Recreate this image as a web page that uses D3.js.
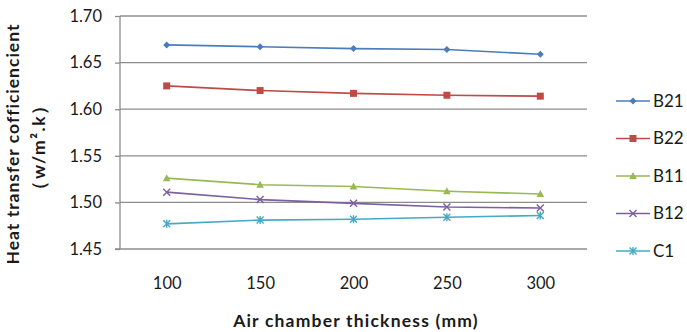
<!DOCTYPE html>
<html>
<head>
<meta charset="utf-8">
<script src="https://cdn.jsdelivr.net/npm/d3@7"></script>
<style>
  html, body { margin: 0; padding: 0; background: #fff; }
  svg { display: block; font-family: Lato, "Open Sans", sans-serif; }
</style>
</head>
<body>
<svg id="chart" width="687" height="332"></svg>
<script>
// Air chamber thickness categories (mm)
const thickness = ["100", "150", "200", "250", "300"];
const yTicks = [1.45, 1.50, 1.55, 1.60, 1.65, 1.70];

// Heat transfer coefficient per configuration
const seriesNames = ["B21", "B22", "B11", "B12", "C1"];
const B21 = [1.669, 1.667, 1.665, 1.664, 1.659];
const B22 = [1.625, 1.620, 1.617, 1.615, 1.614];
const B11 = [1.526, 1.519, 1.517, 1.512, 1.509];
const B12 = [1.511, 1.503, 1.499, 1.495, 1.494];
const C1  = [1.477, 1.481, 1.482, 1.484, 1.486];
const seriesValues = [B21, B22, B11, B12, C1];
const seriesColors = ["#4a7ebb", "#be4b48", "#98b954", "#7d60a0", "#46aac5"];
const seriesMarkers = ["diamond", "square", "triangle", "cross", "star"];

const svg = d3.select("#chart");
const plot = { left: 120, right: 587, top: 16, bottom: 249 };

const x = d3.scalePoint().domain(thickness)
  .range([plot.left, plot.right]).padding(0.5);
const y = d3.scaleLinear().domain([1.45, 1.70])
  .range([plot.bottom, plot.top]);

// Horizontal gridlines
svg.append("g").selectAll("line").data(yTicks.slice(1)).join("line")
  .attr("x1", plot.left).attr("x2", plot.right)
  .attr("y1", d => y(d)).attr("y2", d => y(d))
  .attr("stroke", "#8c8c8c").attr("stroke-width", 1.3);

// Y axis with outward ticks
const yAxis = svg.append("g").attr("transform", `translate(${plot.left},0)`)
  .call(d3.axisLeft(y).tickValues(yTicks).tickFormat(d3.format(".2f"))
    .tickSize(5).tickPadding(13));
yAxis.select(".domain").attr("stroke", "#8c8c8c").attr("stroke-width", 1.3)
  .attr("d", `M0,${plot.top}V${plot.bottom}`);
yAxis.selectAll(".tick line").attr("stroke", "#8c8c8c").attr("stroke-width", 1.3);
yAxis.selectAll(".tick text").attr("font-size", 16.5).attr("fill", "#1a1a1a")
  .attr("font-family", "Lato, sans-serif");

// X axis
const xAxis = svg.append("g").attr("transform", `translate(0,${plot.bottom})`)
  .call(d3.axisBottom(x).tickSize(0).tickPadding(28));
xAxis.select(".domain").attr("stroke", "#8c8c8c").attr("stroke-width", 1.3)
  .attr("d", `M${plot.left - 5},0H${plot.right}`);
xAxis.selectAll(".tick text").attr("font-size", 16.5).attr("fill", "#1a1a1a")
  .attr("font-family", "Lato, sans-serif");

// Marker shapes
function drawMarker(g, type, color) {
  if (type === "diamond") {
    g.append("path").attr("d", "M0,-3.5L3.5,0L0,3.5L-3.5,0Z").attr("fill", color);
  } else if (type === "square") {
    g.append("rect").attr("x", -3.5).attr("y", -3.5).attr("width", 7).attr("height", 7)
      .attr("fill", color);
  } else if (type === "triangle") {
    g.append("path").attr("d", "M0,-4L3.8,3L-3.8,3Z").attr("fill", color);
  } else if (type === "cross") {
    g.append("path").attr("d", "M-3.5,-3.5L3.5,3.5M-3.5,3.5L3.5,-3.5")
      .attr("stroke", color).attr("stroke-width", 1.4).attr("fill", "none");
  } else if (type === "star") {
    g.append("path").attr("d", "M-3.5,-3.5L3.5,3.5M-3.5,3.5L3.5,-3.5M0,-4V4")
      .attr("stroke", color).attr("stroke-width", 1.4).attr("fill", "none");
  }
}

const line = d3.line().x((d, i) => x(thickness[i])).y(d => y(d));

seriesNames.forEach((name, s) => {
  const g = svg.append("g");
  g.append("path").datum(seriesValues[s]).attr("d", line)
    .attr("fill", "none").attr("stroke", seriesColors[s]).attr("stroke-width", 1.6);
  seriesValues[s].forEach((v, i) => {
    const m = g.append("g").attr("transform", `translate(${x(thickness[i])},${y(v)})`);
    drawMarker(m, seriesMarkers[s], seriesColors[s]);
  });
});

// Legend
const legendY = d3.scalePoint().domain(seriesNames).range([101, 251]);
seriesNames.forEach((name, s) => {
  const g = svg.append("g").attr("transform", `translate(616,${legendY(name)})`);
  g.append("line").attr("x1", 0).attr("x2", 34).attr("y1", 0).attr("y2", 0)
    .attr("stroke", seriesColors[s]).attr("stroke-width", 1.6);
  const m = g.append("g").attr("transform", "translate(17,0)");
  drawMarker(m, seriesMarkers[s], seriesColors[s]);
  g.append("text").attr("x", 37).attr("y", 0).attr("dy", "0.35em")
    .attr("font-size", 17).attr("fill", "#1a1a1a").text(name);
});

// Axis titles
svg.append("text")
  .attr("transform", "translate(19,144) rotate(-90)")
  .attr("text-anchor", "middle").attr("font-size", 17.5).attr("font-weight", "bold")
  .attr("letter-spacing", 1).attr("fill", "#1a1a1a").text("Heat transfer cofficiencient");
svg.append("text")
  .attr("transform", "translate(45,147) rotate(-90)")
  .attr("text-anchor", "middle").attr("font-size", 17.5).attr("font-weight", "bold")
  .attr("letter-spacing", 1.5).attr("fill", "#1a1a1a").text("（w/m².k）");

svg.append("text")
  .attr("x", 356).attr("y", 327)
  .attr("text-anchor", "middle").attr("font-size", 17.5).attr("font-weight", "bold")
  .attr("letter-spacing", 1.2).attr("fill", "#1a1a1a").text("Air chamber thickness (mm)");
</script>
</body>
</html>
